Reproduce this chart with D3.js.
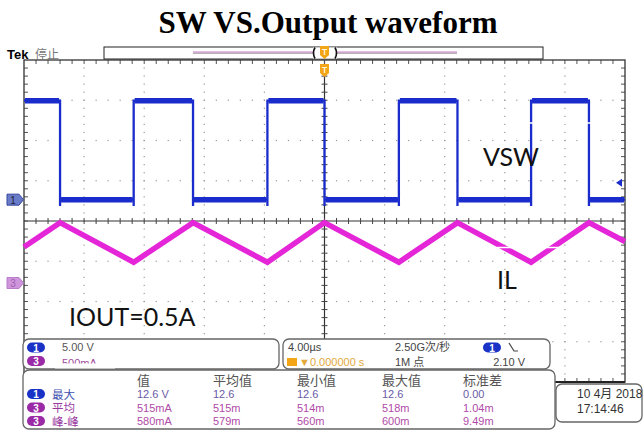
<!DOCTYPE html>
<html><head><meta charset="utf-8">
<script src="https://cdn.jsdelivr.net/npm/d3@7"></script>
<style>html,body{margin:0;padding:0;background:#fff;}svg{display:block;}</style>
</head><body>
<svg id="c" width="644" height="435"></svg>
<script>
// ---------------- data ----------------
const title = "SW VS.Output waveform";
// VSW (channel 1): switching edges in µs (trigger at 0), alternating starting with a falling edge
const vswEdges = [-17.6, -12.7, -8.75, -3.8, 0, 4.95, 8.85, 13.75, 17.6];
const vswLevels = [12.3, 0];          // high, low (V)
const vswStartHigh = true;
const vswUndershoot = -0.8;           // V, edge ringing below the low level
// IL (channel 3) in mA
const ilTime = [-20, -17.6, -12.7, -8.75, -3.8, 0, 4.95, 8.85, 13.75, 17.6, 20];
const ilValue = [446, 750, 258, 750, 258, 750, 258, 750, 258, 750, 515];
// scope settings
const timeDomain = [-20, 20];   // µs, 4 µs/div x 10 div
const ch1Scale = 5;             // V/div
const ch3Scale = 500;           // mA/div
const ch1Pos = -0.53;           // div below centre (negative = above)
const ch3Pos = 1.54;            // div below centre
const trigLevel = 2.10;         // V
const annotations = ["VSW", "IL", "IOUT=0.5A"];
const chanLabels = ["5.00 V", "500mA"];
const timeLabels = ["4.00µs", "▼0.000000 s", "2.50G次/秒", "1M 点", "2.10 V"];
const measHeader = ["值", "平均值", "最小值", "最大值", "标准差"];
const measRows = [
  {ch: "1", name: "最大", vals: ["12.6 V", "12.6", "12.6", "12.6", "0.00"]},
  {ch: "3", name: "平均", vals: ["515mA", "515m", "514m", "518m", "1.04m"]},
  {ch: "3", name: "峰-峰", vals: ["580mA", "579m", "560m", "600m", "9.49m"]}
];
const dateLines = ["10 4月 2018", "17:14:46"];

// ---------------- layout ----------------
const svg = d3.select("#c");
const G = {l: 24, r: 625, t: 60, b: 382};
const gx = d3.scaleLinear().domain([0, 10]).range([G.l, G.r]);
const gy = d3.scaleLinear().domain([0, 8]).range([G.t, G.b]);
const divH = gy(1) - gy(0);
const x = d3.scaleLinear().domain(timeDomain).range([G.l, G.r]);
const ch1Zero = gy(4 + ch1Pos);
const ch3Zero = gy(4 + ch3Pos);
const yV = d3.scaleLinear().domain([0, ch1Scale]).range([ch1Zero, ch1Zero - divH]);
const yI = d3.scaleLinear().domain([0, ch3Scale]).range([ch3Zero, ch3Zero - divH]);

const BLUE = "#1a2ccc", MAG = "#e425d8", ORANGE = "#f2a516";
const SANS = "'Liberation Sans','Noto Sans CJK SC',sans-serif";
const CJK = "'Noto Sans CJK SC',sans-serif";

// title
svg.append("text").attr("x", 328).attr("y", 33).attr("text-anchor", "middle")
  .attr("font-family", "'Liberation Serif',serif").attr("font-weight", "bold")
  .attr("font-size", 31).attr("fill", "#000").text(title);

// ---------------- graticule ----------------
const grat = svg.append("g");
for (let i = 1; i < 10; i++) {
  if (i === 5) continue;
  for (let k = 1; k < 40; k++) {
    grat.append("rect").attr("x", gx(i) - 0.6).attr("y", gy(k / 5) - 0.6)
      .attr("width", 1.2).attr("height", 1.2).attr("fill", "#999");
  }
}
for (let j = 1; j < 8; j++) {
  if (j === 4) continue;
  for (let k = 1; k < 50; k++) {
    grat.append("rect").attr("x", gx(k / 5) - 0.6).attr("y", gy(j) - 0.6)
      .attr("width", 1.2).attr("height", 1.2).attr("fill", "#999");
  }
}
grat.append("line").attr("x1", G.l).attr("x2", G.r).attr("y1", gy(4)).attr("y2", gy(4))
  .attr("stroke", "#333").attr("stroke-width", 1.2);
grat.append("line").attr("x1", gx(5)).attr("x2", gx(5)).attr("y1", G.t).attr("y2", G.b)
  .attr("stroke", "#333").attr("stroke-width", 1.2);
for (let k = 1; k < 50; k++) {
  grat.append("line").attr("x1", gx(k / 5)).attr("x2", gx(k / 5)).attr("y1", gy(4) - 3).attr("y2", gy(4) + 3)
    .attr("stroke", "#444").attr("stroke-width", 1);
  grat.append("line").attr("x1", gx(k / 5)).attr("x2", gx(k / 5)).attr("y1", G.t).attr("y2", G.t + 4)
    .attr("stroke", "#555").attr("stroke-width", 1);
  grat.append("line").attr("x1", gx(k / 5)).attr("x2", gx(k / 5)).attr("y1", G.b).attr("y2", G.b - 4)
    .attr("stroke", "#555").attr("stroke-width", 1);
}
for (let k = 1; k < 40; k++) {
  grat.append("line").attr("y1", gy(k / 5)).attr("y2", gy(k / 5)).attr("x1", gx(5) - 3).attr("x2", gx(5) + 3)
    .attr("stroke", "#444").attr("stroke-width", 1);
  grat.append("line").attr("y1", gy(k / 5)).attr("y2", gy(k / 5)).attr("x1", G.l).attr("x2", G.l + 4)
    .attr("stroke", "#555").attr("stroke-width", 1);
  grat.append("line").attr("y1", gy(k / 5)).attr("y2", gy(k / 5)).attr("x1", G.r).attr("x2", G.r - 4)
    .attr("stroke", "#555").attr("stroke-width", 1);
}
grat.append("rect").attr("x", G.l).attr("y", G.t).attr("width", G.r - G.l).attr("height", G.b - G.t)
  .attr("fill", "none").attr("stroke", "#333").attr("stroke-width", 1.3);
grat.append("line").attr("x1", G.l).attr("x2", G.r).attr("y1", G.b).attr("y2", G.b)
  .attr("stroke", "#222").attr("stroke-width", 2);

// ---------------- traces ----------------
const vswPts = [];
let high = vswStartHigh;
vswPts.push([timeDomain[0], high ? vswLevels[0] : vswLevels[1]]);
vswEdges.forEach(t => {
  const from = high ? vswLevels[0] : vswLevels[1];
  const to = high ? vswLevels[1] : vswLevels[0];
  vswPts.push([t, from]);
  vswPts.push([t, vswUndershoot]);
  vswPts.push([t, to]);
  high = !high;
});
vswPts.push([timeDomain[1], high ? vswLevels[0] : vswLevels[1]]);

const line = d3.line().x(d => x(d[0])).y(d => yV(d[1]));
svg.append("path").attr("d", line(vswPts)).attr("fill", "none")
  .attr("stroke", BLUE).attr("stroke-width", 2.3);
for (let i = 0; i < vswPts.length - 1; i++) {
  const a = vswPts[i], b = vswPts[i + 1];
  if (a[1] === b[1] && a[0] !== b[0]) {
    svg.append("line").attr("x1", x(a[0]) + 1).attr("x2", x(b[0]) - 1)
      .attr("y1", yV(a[1])).attr("y2", yV(b[1]))
      .attr("stroke", BLUE).attr("stroke-width", 5.5);
  }
}
const ilLine = d3.line().x((d, i) => x(ilTime[i])).y(d => yI(d));
svg.append("path").attr("d", ilLine(ilValue)).attr("fill", "none")
  .attr("stroke", MAG).attr("stroke-width", 5.5).attr("stroke-linejoin", "miter");

// white edges of the annotation boxes crossing the traces
svg.append("line").attr("x1", 529).attr("x2", 592).attr("y1", 123).attr("y2", 123)
  .attr("stroke", "#fff").attr("stroke-width", 1.5);
svg.append("line").attr("x1", 497).attr("x2", 563).attr("y1", 247.5).attr("y2", 247.5)
  .attr("stroke", "#fff").attr("stroke-width", 1.5);

// annotations
const ANN = "Lato,'Open Sans',sans-serif";
svg.append("text").attr("x", 483).attr("y", 166).attr("font-family", ANN).attr("font-size", 25)
  .attr("fill", "#111").text(annotations[0]);
svg.append("text").attr("x", 497).attr("y", 289).attr("font-family", ANN).attr("font-size", 25)
  .attr("fill", "#111").text(annotations[1]);
svg.append("text").attr("x", 69).attr("y", 326).attr("font-family", ANN).attr("font-size", 25)
  .attr("fill", "#111").text(annotations[2]);

// ---------------- markers ----------------
function chanMarker(y, fill, stroke, label, tcol) {
  svg.append("path").attr("d", `M7,${y - 5.5}H19L23.5,${y}L19,${y + 5.5}H7Z`)
    .attr("fill", fill).attr("stroke", stroke).attr("stroke-width", 1);
  svg.append("text").attr("x", 13).attr("y", y + 4).attr("text-anchor", "middle")
    .attr("font-family", SANS).attr("font-size", 10).attr("fill", tcol).text(label);
}
chanMarker(ch1Zero, "#6a7cc8", "#34479e", "1", "#223");
chanMarker(ch3Zero, "#cf95dc", "#b77ccb", "3", "#a060b0");
const ty = yV(trigLevel);
svg.append("path").attr("d", `M616,${ty}L622,${ty - 4}L622,${ty + 4}Z`).attr("fill", BLUE);

// top bar
svg.append("text").attr("x", 7).attr("y", 59).attr("font-family", SANS).attr("font-weight", "bold")
  .attr("font-size", 13).attr("fill", "#000").text("Tek");
svg.append("text").attr("x", 35).attr("y", 59).attr("font-family", CJK)
  .attr("font-size", 12).attr("fill", "#777").text("停止");
svg.append("rect").attr("x", 104).attr("y", 47).attr("width", 439).attr("height", 12)
  .attr("fill", "#fff").attr("stroke", "#222").attr("stroke-width", 1);
svg.append("line").attr("x1", 193).attr("x2", 457).attr("y1", 52).attr("y2", 52)
  .attr("stroke", "#c77cc7").attr("stroke-width", 1);
svg.append("line").attr("x1", 193).attr("x2", 457).attr("y1", 53.2).attr("y2", 53.2)
  .attr("stroke", "#9a8a9a").attr("stroke-width", 1);
svg.append("rect").attr("x", 313).attr("y", 47.5).attr("width", 24).attr("height", 11).attr("fill", "#fff");
svg.append("path").attr("d", "M315,47.5Q312,53 315,58.5").attr("fill", "none").attr("stroke", "#111").attr("stroke-width", 1.6);
svg.append("path").attr("d", "M335,47.5Q338,53 335,58.5").attr("fill", "none").attr("stroke", "#111").attr("stroke-width", 1.6);
function trigT(cx, y0) {
  svg.append("path").attr("d", `M${cx - 4.5},${y0}H${cx + 4.5}V${y0 + 9}L${cx},${y0 + 13}L${cx - 4.5},${y0 + 9}Z`)
    .attr("fill", ORANGE);
  svg.append("text").attr("x", cx).attr("y", y0 + 9).attr("text-anchor", "middle")
    .attr("font-family", SANS).attr("font-weight", "bold").attr("font-size", 8.5).attr("fill", "#fff6dd").text("T");
}
trigT(x(0), 46);
trigT(x(0), 64);

// ---------------- bottom info boxes ----------------
const box = (x0, y0, w, h) => svg.append("rect").attr("x", x0).attr("y", y0).attr("width", w).attr("height", h)
  .attr("rx", 6).attr("fill", "#fff").attr("stroke", "#666").attr("stroke-width", 1.3);
function pill(cx, cy, label, fill) {
  svg.append("rect").attr("x", cx - 9).attr("y", cy - 5).attr("width", 18).attr("height", 10).attr("rx", 5)
    .attr("fill", fill);
  svg.append("text").attr("x", cx).attr("y", cy + 4).attr("text-anchor", "middle")
    .attr("font-family", SANS).attr("font-weight", "bold").attr("font-size", 10).attr("fill", "#fff").text(label);
}
box(23, 339, 256, 30);
box(283, 339, 267, 30);
pill(36, 347.5, "1", "#1a33c6");
svg.append("text").attr("x", 62).attr("y", 351).attr("font-family", SANS).attr("font-size", 11)
  .attr("fill", "#555").text(chanLabels[0]);
pill(36, 361, "3", "#9a2aa6");
svg.append("text").attr("x", 62).attr("y", 367).attr("font-family", SANS).attr("font-size", 11)
  .attr("fill", "#a04aa0").text(chanLabels[1]);
svg.append("rect").attr("x", 55).attr("y", 363.5).attr("width", 60).attr("height", 5).attr("fill", "#fff");

svg.append("text").attr("x", 288).attr("y", 351).attr("font-family", SANS).attr("font-size", 11)
  .attr("fill", "#444").text(timeLabels[0]);
svg.append("rect").attr("x", 287).attr("y", 358).attr("width", 10).attr("height", 8).attr("fill", ORANGE);
svg.append("text").attr("x", 299).attr("y", 366).attr("font-family", SANS).attr("font-size", 11)
  .attr("fill", "#e3a83c").text(timeLabels[1]);
svg.append("text").attr("x", 395).attr("y", 351).attr("font-family", SANS).attr("font-size", 11)
  .attr("fill", "#444").text(timeLabels[2]);
svg.append("text").attr("x", 395).attr("y", 366).attr("font-family", SANS).attr("font-size", 11)
  .attr("fill", "#444").text(timeLabels[3]);
pill(492, 347.5, "1", "#1a33c6");
svg.append("path").attr("d", "M509,343L514,351L518,351").attr("stroke", "#444").attr("stroke-width", 1.2).attr("fill", "none");
svg.append("text").attr("x", 525).attr("y", 366).attr("text-anchor", "end").attr("font-family", SANS)
  .attr("font-size", 11).attr("fill", "#444").text(timeLabels[4]);

box(23, 370, 532, 59);
const colX = [137, 213, 297, 382, 463];
measHeader.forEach((h, i) => svg.append("text").attr("x", colX[i]).attr("y", 385)
  .attr("font-family", CJK).attr("font-size", 13).attr("fill", "#555").text(h));
const rowY = [398, 411.5, 425];
measRows.forEach((r, j) => {
  const isV = r.ch === "1";
  pill(36, rowY[j] - 4, r.ch, isV ? "#1a33c6" : "#9a2aa6");
  svg.append("text").attr("x", 52).attr("y", rowY[j] + 0.5).attr("font-family", SANS)
    .attr("font-size", 11.5).attr("fill", isV ? "#3e4fb0" : "#9a3aa0").text(r.name);
  r.vals.forEach((v, i) => svg.append("text").attr("x", colX[i]).attr("y", rowY[j])
    .attr("font-family", SANS).attr("font-size", 11).attr("fill", isV ? "#6a5aa8" : "#b04aa8").text(v));
});

// date box
box(556, 384, 86, 38);
svg.append("text").attr("x", 577).attr("y", 398).attr("font-family", SANS).attr("font-size", 12)
  .attr("fill", "#333").text(dateLines[0]);
svg.append("text").attr("x", 577).attr("y", 413).attr("font-family", SANS).attr("font-size", 12)
  .attr("fill", "#333").text(dateLines[1]);
</script>
</body></html>
